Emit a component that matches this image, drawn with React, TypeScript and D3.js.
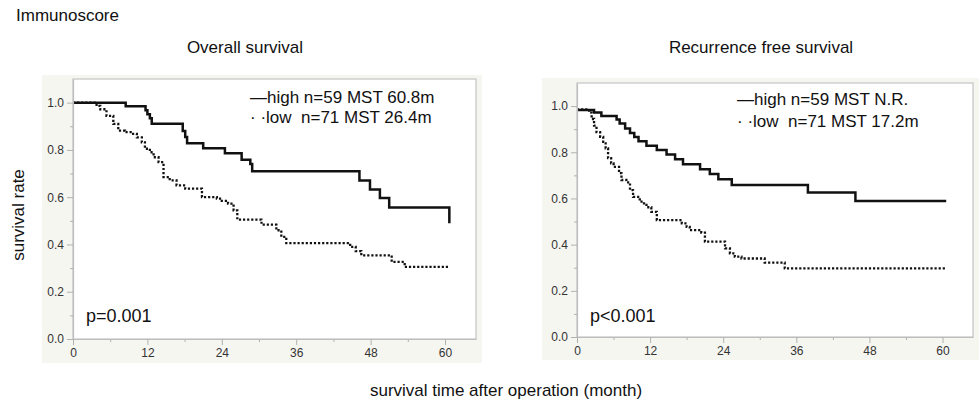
import React, { useEffect, useRef } from "react";
import * as d3 from "d3";

// Kaplan-Meier curves (months, survival rate)
const osHighTime = [0, 8.5, 11.7, 12.0, 12.4, 12.7, 17.7, 18.1, 18.4, 21.0, 24.5, 27.2, 28.6, 28.9, 46.2, 47.9, 49.5, 51.0, 60.7];
const osHighSurv = [1.0, 0.985, 0.968, 0.951, 0.934, 0.911, 0.88, 0.855, 0.828, 0.807, 0.786, 0.758, 0.74, 0.71, 0.671, 0.632, 0.597, 0.556, 0.49];

const osLowTime = [0, 3.8, 4.4, 5.4, 6.5, 7.3, 8.4, 9.5, 10.3, 11.1, 11.6, 12.4, 13.0, 13.8, 14.6, 15.6, 16.7, 18.1, 20.8, 23.2, 24.0, 25.0, 25.9, 26.5, 30.4, 32.8, 33.6, 34.4, 44.7, 45.6, 46.5, 51.4, 53.5, 60.5];
const osLowSurv = [1.0, 0.986, 0.972, 0.944, 0.91, 0.882, 0.875, 0.868, 0.853, 0.832, 0.805, 0.79, 0.769, 0.748, 0.685, 0.671, 0.65, 0.636, 0.6, 0.594, 0.584, 0.573, 0.544, 0.505, 0.484, 0.46, 0.432, 0.406, 0.39, 0.372, 0.354, 0.326, 0.305, 0.305];

const rfsHighTime = [0, 2.8, 4.0, 6.5, 7.0, 7.9, 8.7, 9.4, 10.1, 11.4, 13.1, 14.7, 16.1, 17.4, 20.2, 21.8, 23.2, 25.4, 37.9, 45.7, 60.6];
const rfsHighSurv = [0.983, 0.972, 0.957, 0.942, 0.925, 0.903, 0.884, 0.866, 0.848, 0.828, 0.81, 0.79, 0.77, 0.748, 0.726, 0.706, 0.683, 0.658, 0.626, 0.589, 0.589];

const rfsLowTime = [0, 2.0, 2.4, 2.8, 3.2, 3.8, 4.3, 4.7, 5.1, 5.6, 6.0, 6.9, 7.3, 8.1, 8.7, 9.2, 10.3, 11.0, 11.4, 12.2, 13.1, 17.2, 18.0, 18.5, 20.4, 21.0, 24.3, 25.1, 25.9, 27.0, 30.8, 34.1, 60.6];
const rfsLowSurv = [0.986, 0.972, 0.944, 0.915, 0.887, 0.867, 0.845, 0.817, 0.775, 0.752, 0.737, 0.71, 0.68, 0.67, 0.636, 0.607, 0.586, 0.572, 0.562, 0.542, 0.506, 0.492, 0.477, 0.463, 0.452, 0.413, 0.384, 0.362, 0.348, 0.34, 0.322, 0.297, 0.297];

const xTicks = [0, 12, 24, 36, 48, 60];
const xMinor = [6, 18, 30, 42, 54];
const yTicks = [0, 0.2, 0.4, 0.6, 0.8, 1.0];
const yMinor = [0.1, 0.3, 0.5, 0.7, 0.9];

const osLegend = ["\u2014high n=59 MST 60.8m", "\u00b7 \u00b7low  n=71 MST 26.4m"];
const rfsLegend = ["\u2014high n=59 MST N.R.", "\u00b7 \u00b7low  n=71 MST 17.2m"];

const FONT = "'Liberation Sans', Arial, Helvetica, sans-serif";

const drawPanel = (svg, p) => {
  const g = svg.append("g");

  g.append("rect")
    .attr("x", p.bg[0]).attr("y", p.bg[1])
    .attr("width", p.bg[2] - p.bg[0]).attr("height", p.bg[3] - p.bg[1])
    .attr("fill", "#f6f6f1");

  g.append("rect")
    .attr("x", p.box[0]).attr("y", p.box[1])
    .attr("width", p.box[2] - p.box[0]).attr("height", p.box[3] - p.box[1])
    .attr("fill", "#fff")
    .attr("stroke", "#c4c4c4")
    .attr("stroke-width", 1.2);

  const x = d3.scaleLinear().domain([0, 65]).range([p.box[0], p.box[2]]);
  const y = d3.scaleLinear().domain([0, 1.1]).range([p.box[3], p.box[1]]);

  const line = d3.line()
    .x(d => x(d[0]))
    .y(d => y(d[1]))
    .curve(d3.curveStepAfter);

  p.curves.forEach(c => {
    const pts = c.time.map((t, i) => [t, c.surv[i]]);
    g.append("path")
      .attr("d", line(pts))
      .attr("fill", "none")
      .attr("stroke", "#111")
      .attr("stroke-width", c.dotted ? 2.3 : 2.5)
      .attr("stroke-dasharray", c.dotted ? "2.2,1.9" : null);
  });

  const styleAxis = sel => {
    sel.select(".domain").attr("stroke", "#bdbdbd").attr("stroke-width", 1.2);
    sel.selectAll(".tick line").attr("stroke", "#b0b0b0");
    sel.selectAll(".tick text")
      .attr("fill", "#333")
      .attr("font-size", 12)
      .attr("font-family", FONT);
  };

  g.append("g")
    .attr("transform", `translate(0,${p.box[3]})`)
    .call(d3.axisBottom(x).tickValues(xMinor).tickSize(3).tickFormat(() => ""))
    .call(sel => { sel.select(".domain").remove(); sel.selectAll(".tick line").attr("stroke", "#b0b0b0"); });
  g.append("g")
    .attr("transform", `translate(${p.box[0]},0)`)
    .call(d3.axisLeft(y).tickValues(yMinor).tickSize(3).tickFormat(() => ""))
    .call(sel => { sel.select(".domain").remove(); sel.selectAll(".tick line").attr("stroke", "#b0b0b0"); });

  g.append("g")
    .attr("transform", `translate(0,${p.box[3]})`)
    .call(d3.axisBottom(x).tickValues(xTicks).tickSize(6).tickSizeOuter(0).tickPadding(3))
    .call(styleAxis);
  g.append("g")
    .attr("transform", `translate(${p.box[0]},0)`)
    .call(d3.axisLeft(y).tickValues(yTicks).tickSize(6).tickSizeOuter(0).tickPadding(3).tickFormat(d3.format(".1f")))
    .call(styleAxis);

  g.append("text")
    .attr("x", p.titleX).attr("y", 53)
    .attr("text-anchor", "middle")
    .attr("font-size", 17).attr("font-family", FONT).attr("fill", "#111")
    .text(p.title);

  p.legend.forEach((s, i) => {
    g.append("text")
      .attr("x", p.legendX).attr("y", p.legendY + i * p.legendGap)
      .attr("font-size", 17).attr("font-family", FONT).attr("fill", "#111")
      .style("white-space", "pre")
      .text(s);
  });

  g.append("text")
    .attr("x", p.box[0] + 13).attr("y", 322)
    .attr("font-size", 18).attr("font-family", FONT).attr("fill", "#111")
    .text(p.pValue);
};

const buildChart = el => {
  const svg = d3.select(el);
  svg.selectAll("*").remove();

  svg.append("rect").attr("width", 979).attr("height", 404).attr("fill", "#fff");

  drawPanel(svg, {
    bg: [42, 75, 482, 363],
    box: [73, 79, 476, 339],
    title: "Overall survival",
    titleX: 245,
    legend: osLegend,
    legendX: 250, legendY: 103, legendGap: 20,
    pValue: "p=0.001",
    curves: [
      { time: osHighTime, surv: osHighSurv, dotted: false },
      { time: osLowTime, surv: osLowSurv, dotted: true }
    ]
  });

  drawPanel(svg, {
    bg: [542, 78, 979, 360],
    box: [577, 83, 973, 337],
    title: "Recurrence free survival",
    titleX: 761,
    legend: rfsLegend,
    legendX: 737, legendY: 105, legendGap: 22,
    pValue: "p<0.001",
    curves: [
      { time: rfsHighTime, surv: rfsHighSurv, dotted: false },
      { time: rfsLowTime, surv: rfsLowSurv, dotted: true }
    ]
  });

  svg.append("text")
    .attr("x", 16).attr("y", 21)
    .attr("font-size", 17).attr("font-family", FONT).attr("fill", "#111")
    .text("Immunoscore");

  svg.append("text")
    .attr("transform", "translate(24,215) rotate(-90)")
    .attr("text-anchor", "middle")
    .attr("font-size", 17).attr("font-family", FONT).attr("fill", "#111")
    .text("survival rate");

  svg.append("text")
    .attr("x", 506).attr("y", 396)
    .attr("text-anchor", "middle")
    .attr("font-size", 17).attr("font-family", FONT).attr("fill", "#111")
    .text("survival time after operation (month)");
};

function App() {
  const ref = useRef(null);
  useEffect(() => {
    buildChart(ref.current);
  }, []);

  return (
    <svg
      ref={ref}
      width={979}
      height={404}
      style={{ position: "absolute", left: 0, top: 0, display: "block" }}
    />
  );
}

export default App;
